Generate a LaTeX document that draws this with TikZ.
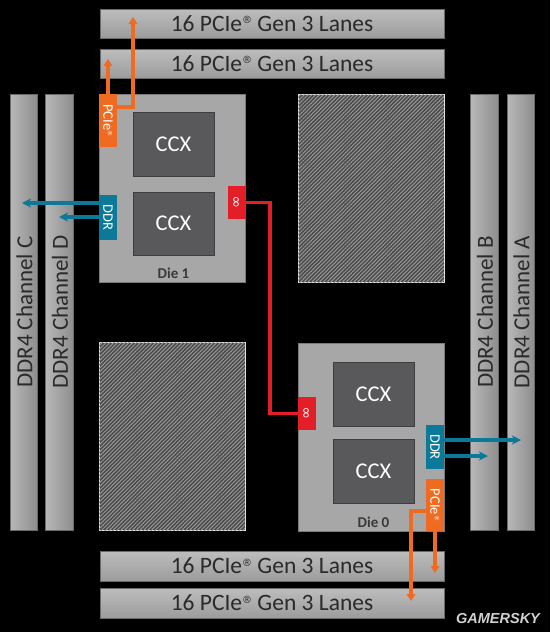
\documentclass[tikz,border=0pt]{standalone}
\usepackage{fontspec}
\setmainfont{Carlito}
\newfontfamily\wmfont{Liberation Sans}
\newfontfamily\symfont{DejaVu Sans}
\usetikzlibrary{arrows.meta,patterns.meta,calc}
\newcommand{\regmark}[2]{{\symfont\fontsize{#1}{#1}\selectfont\raisebox{#2}{®}}}
\definecolor{amdorange}{HTML}{EF6B21}
\definecolor{amdteal}{HTML}{0B7997}
\definecolor{amdred}{HTML}{E31E26}
\definecolor{lanetop}{HTML}{BDBDBD}
\definecolor{lanebot}{HTML}{9C9C9C}
\definecolor{lanedraw}{HTML}{6A6A6A}
\definecolor{ddrleft}{HTML}{B8B8B8}
\definecolor{ddrright}{HTML}{8E8E8E}
\definecolor{bartext}{HTML}{2A2A2A}
\definecolor{diefill}{HTML}{A7A7A7}
\definecolor{diedraw}{HTML}{7A7A7A}
\definecolor{ccxfill}{HTML}{59595B}
\definecolor{ccxdraw}{HTML}{3E3E40}
\definecolor{hatchbg}{HTML}{4A4A4A}
\definecolor{hatchfg}{HTML}{979797}
\definecolor{dielabel}{HTML}{3A3A3A}
\begin{document}
\begin{tikzpicture}[x=1pt,y=-1pt,
  box/.style={inner sep=0pt,outer sep=0pt,anchor=north west},
  lane/.style={box,draw=lanedraw,line width=0.6pt,top color=lanetop,bottom color=lanebot,minimum width=344pt,minimum height=29pt},
  lanetext/.style={text=bartext,inner sep=0pt,font=\fontsize{23.5}{26}\selectfont},
  ddrbar/.style={box,draw=lanedraw,line width=0.6pt,left color=ddrleft,right color=ddrright,minimum width=28pt,minimum height=436pt},
  ddrtext/.style={text=bartext,inner sep=0pt,rotate=90,font=\fontsize{23}{26}\selectfont},
  die/.style={box,draw=diedraw,line width=0.8pt,fill=diefill,minimum width=146pt,minimum height=188pt},
  hatch/.style={box,draw=white!90!black,line width=0.9pt,fill=hatchbg,
    postaction={pattern={Lines[angle=45,distance=2.7pt,line width=1pt]},pattern color=hatchfg},
    minimum width=146pt,minimum height=188pt},
  ccx/.style={box,draw=ccxdraw,line width=0.6pt,fill=ccxfill,minimum width=81pt,minimum height=64pt,
    text=white,font=\fontsize{22.5}{26}\selectfont},
  port/.style={box,minimum width=18pt,text=white},
  pciebox/.style={port,fill=amdorange},
  ddrbox/.style={port,fill=amdteal},
  infbox/.style={port,fill=amdred,minimum height=33pt},
  porttext/.style={text=white,inner sep=0pt,rotate=-90,font=\fontsize{14.5}{16}\selectfont},
  inftext/.style={text=white,inner sep=0pt,rotate=90,font=\symfont\fontsize{15}{16}\selectfont},
  dielbl/.style={text=dielabel,inner sep=0pt,font=\bfseries\fontsize{15}{16}\selectfont},
  orangearrow/.style={draw=amdorange,line width=3.1pt,-{Triangle[length=7pt,width=8.5pt]}},
  tealarrow/.style={draw=amdteal,line width=3.1pt,-{Stealth[length=9pt,width=9pt,inset=2.5pt]}},
  redline/.style={draw=amdred,line width=3.2pt},
]
\useasboundingbox (0,0) rectangle (550,632);
\fill[black] (0,0) rectangle (550,632);

% PCIe lane bars
\node[lane] (lane1) at (100,9) {};
\node[lane] (lane2) at (100,49) {};
\node[lane,minimum height=30pt] (lane3) at (100,551) {};
\node[lane,minimum height=30pt] (lane4) at (100,588) {};
\foreach \n in {1,2,3,4}{
  \node[lanetext] (lane\n t) at (lane\n.center) {16 PCIe\regmark{10}{7.6pt} Gen 3 Lanes};
}

% DDR4 channel bars
\node[ddrbar,minimum width=27pt] (chC) at (10,94) {};
\node[ddrbar] (chD) at (45,94) {};
\node[ddrbar] (chB) at (470,94) {};
\node[ddrbar,minimum width=27pt] (chA) at (507,94) {};
\node[ddrtext] (chCt) at ($(chC.center)+(1,0)$) {DDR4 Channel C};
\node[ddrtext] (chDt) at ($(chD.center)+(1,0)$) {DDR4 Channel D};
\node[ddrtext] (chBt) at ($(chB.center)+(1,0)$) {DDR4 Channel B};
\node[ddrtext] (chAt) at ($(chA.center)+(1,0)$) {DDR4 Channel A};

% hatched (empty) dies
\node[hatch] (hatchTR) at (298,94) {};
\node[hatch] (hatchBL) at (99,342) {};

% Die 1
\node[die] (die1) at (99,94) {};
\node[ccx] (ccx1a) at (133,112) {CCX};
\node[ccx,minimum height=63pt] (ccx1b) at (133,192) {CCX};
\node[dielbl] (die1l) at (ccx1b.center |- 0,273) {Die 1};
\node[pciebox,minimum height=53pt] (p1) at (99,94) {};
\node[porttext] (p1t) at (p1.center) {PCIe\regmark{6}{4.6pt}};
\node[ddrbox,minimum height=45pt] (d1) at (99,195) {};
\node[porttext] (d1t) at (d1.center) {DDR};
\node[infbox] (inf1) at (228,186) {};
\node[inftext] (inf1t) at (inf1.center) {∞};

% Die 0
\node[die] (die0) at (298,343) {};
\node[ccx] (ccx0a) at (333,362) {CCX};
\node[ccx] (ccx0b) at (333,439) {CCX};
\node[dielbl] (die0l) at (ccx0b.center |- 0,522) {Die 0};
\node[infbox] (inf0) at (298,397) {};
\node[inftext] (inf0t) at (inf0.center) {∞};
\node[ddrbox,minimum height=44pt] (d0) at (426,425) {};
\node[porttext] (d0t) at (d0.center) {DDR};
\node[pciebox,minimum height=52pt] (p0) at (426,479) {};
\node[porttext] (p0t) at (p0.center) {PCIe\regmark{6}{4.6pt}};

% arrow targets
\coordinate (t1) at (133,17);
\coordinate (t2) at (108,59);
\coordinate (tc) at (22,203);
\coordinate (td) at (59,217);
\coordinate (ta) at (521,440);
\coordinate (tb) at (488,456);
\coordinate (t3) at (435,573);
\coordinate (t4) at (411,601);

% die 1 PCIe
\draw[orangearrow] ([yshift=-13pt]p1.north east) -| (t1);
\draw[orangearrow] (p1.north) -- (p1.north |- t2);
% die 1 DDR
\draw[tealarrow] ([yshift=-8pt]d1.north west) -- (tc);
\draw[tealarrow] ([yshift=-22pt]d1.north west) -- (td);
% Infinity Fabric link
\draw[redline] (inf1.east) -- ++(24,0) |- (inf0.west);
% die 0 DDR
\draw[tealarrow] ([yshift=-15pt]d0.north east) -- (ta);
\draw[tealarrow] ([yshift=-31pt]d0.north east) -- (tb);
% die 0 PCIe
\draw[orangearrow] (p0.south) -- (p0.south |- t3);
\draw[orangearrow] ([yshift=-32pt]p0.north west) -| (t4);

% watermark
\node[text=white!82!black,inner sep=0pt,font=\wmfont\bfseries\itshape\fontsize{14.5}{16}\selectfont] (wm) at (498,619) {GAMERSKY};
\end{tikzpicture}
\end{document}
